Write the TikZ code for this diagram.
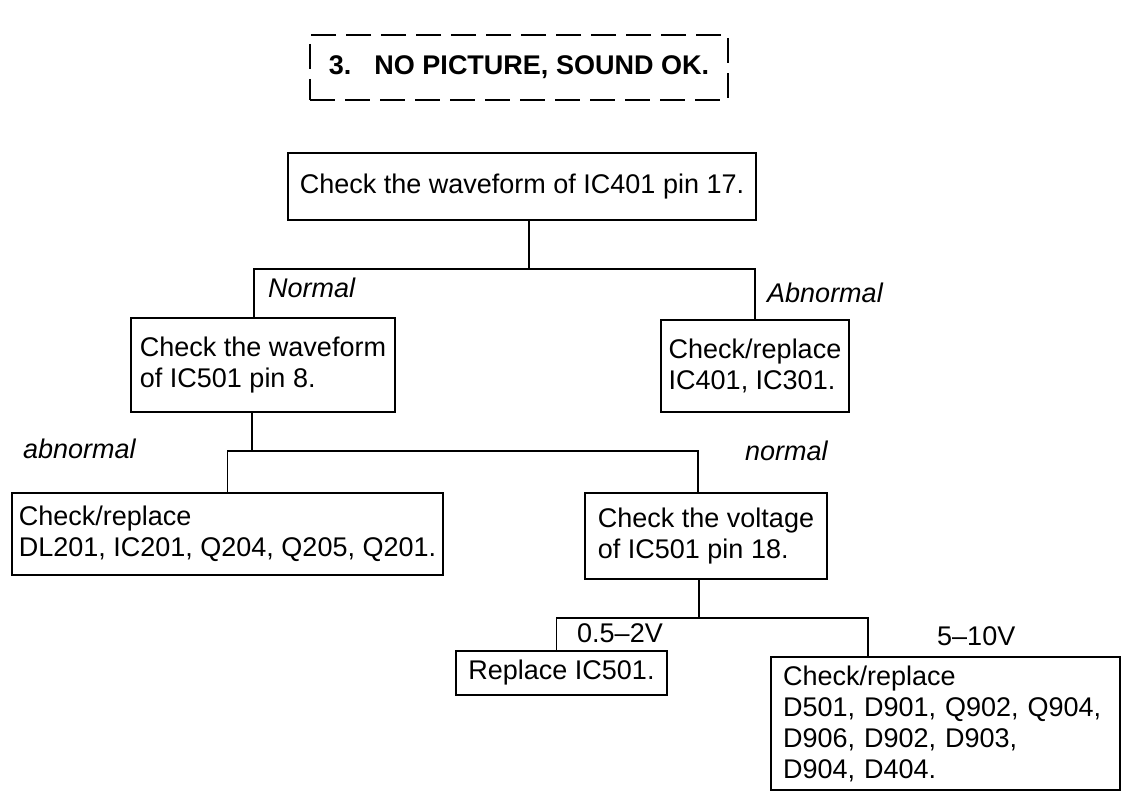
\documentclass[tikz,border=0pt]{standalone}
\usepackage{fontspec}
\setmainfont{Liberation Sans}
\begin{document}
\begin{tikzpicture}[x=1pt,y=-1pt,
  txt/.style={font=\fontsize{27}{31}\selectfont},
  box/.style={draw, line width=1.6pt, inner sep=2pt, align=left, txt},
  lbl/.style={anchor=base west, inner sep=0pt, txt},
  conn/.style={line width=1.6pt}]
\useasboundingbox (0,0) rectangle (1121,794);
% title
\node[box, dash pattern=on 25pt off 10pt, line width=2.6pt, minimum width=418pt, minimum height=65pt,
      font=\bfseries\fontsize{27}{31}\selectfont] (title) at (519,67.5) {3.\hspace{23pt}NO PICTURE, SOUND OK.};
% boxes
\node[box, minimum width=468pt, minimum height=67pt] (top) at (522,186.5) {Check the waveform of IC401 pin 17.};
\node[box, minimum width=264pt, minimum height=94pt] (n2) at (263,365) {Check the waveform\\of IC501 pin 8.};
\node[box, minimum width=188pt, minimum height=92pt] (n3) at (755,366) {Check/replace\\IC401, IC301.};
\node[box, minimum width=431pt, minimum height=82pt] (n4) at (227.5,534) {Check/replace\\DL201, IC201, Q204, Q205, Q201.};
\node[box, minimum width=242pt, minimum height=86pt] (n5) at (706,536) {Check the voltage\\of IC501 pin 18.};
\node[box, minimum width=211pt, minimum height=44pt] (n6) at (561.5,673) {Replace IC501.};
\node[box, inner xsep=12pt, text width=325pt, minimum height=133pt] (n7) at (945.5,723.5) {Check/replace\\D501, D901, Q902, Q904,\\D906, D902, D903,\\D904, D404.};
% connectors
\draw[conn] ([xshift=7pt]top.south) -- ++(0,48) coordinate (j1);
\draw[conn] ([xshift=-9pt]n2.north) |- (j1) -| (n3.north);
\draw[conn] ([xshift=-11pt]n2.south) -- ++(0,38) coordinate (j2);
\draw[conn] (n4.north) |- (j2) -| ([xshift=-8pt]n5.north);
\draw[conn] ([xshift=-7pt]n5.south) -- ++(0,38) coordinate (j3);
\draw[conn] ([xshift=-5pt]n6.north) |- (j3) -| ([xshift=-77.5pt]n7.north);
% labels
\node[lbl, font=\itshape\fontsize{27}{31}\selectfont] (l1) at (268,298) {Normal};
\node[lbl, font=\itshape\fontsize{27}{31}\selectfont] (l2) at (767,302) {Abnormal};
\node[lbl, font=\itshape\fontsize{27}{31}\selectfont] (l3) at (23,458) {abnormal};
\node[lbl, font=\itshape\fontsize{27}{31}\selectfont] (l4) at (745,460) {normal};
\node[lbl] (l5) at (577,642) {0.5–2V};
\node[lbl] (l6) at (937,645) {5–10V};
\end{tikzpicture}
\end{document}
